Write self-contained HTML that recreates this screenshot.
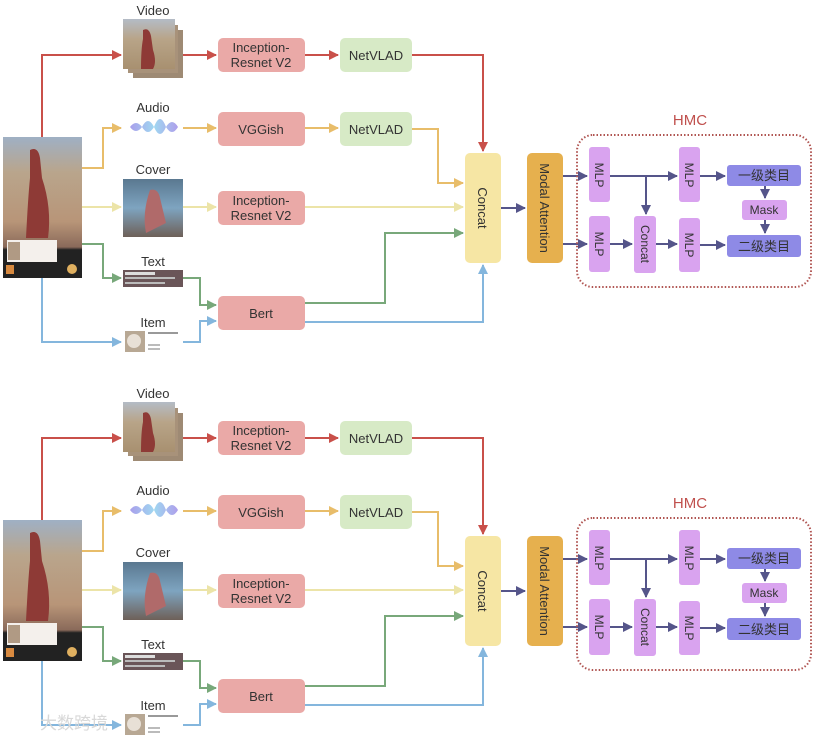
<!DOCTYPE html>
<html><head><meta charset="utf-8"><style>
html,body{margin:0;padding:0;background:#fff;}
svg{display:block;}
text{font-family:"Liberation Sans","Noto Sans CJK SC",sans-serif;fill:#333;}
</style></head><body>
<svg width="815" height="740" viewBox="0 0 815 740" xmlns="http://www.w3.org/2000/svg">
<defs>
<marker id="ar" viewBox="0 0 10 10" refX="9" refY="5" markerWidth="5" markerHeight="5" orient="auto"><path d="M0,0 L10,5 L0,10 z" fill="context-stroke"/></marker>
<marker id="r" viewBox="0 0 10 10" refX="9" refY="5" markerWidth="5" markerHeight="5" orient="auto"><path d="M0,0 L10,5 L0,10 z" fill="#c9504a"/></marker>
<marker id="o" viewBox="0 0 10 10" refX="9" refY="5" markerWidth="5" markerHeight="5" orient="auto"><path d="M0,0 L10,5 L0,10 z" fill="#e8bd6a"/></marker>
<marker id="ly" viewBox="0 0 10 10" refX="9" refY="5" markerWidth="5" markerHeight="5" orient="auto"><path d="M0,0 L10,5 L0,10 z" fill="#ece4a8"/></marker>
<marker id="g" viewBox="0 0 10 10" refX="9" refY="5" markerWidth="5" markerHeight="5" orient="auto"><path d="M0,0 L10,5 L0,10 z" fill="#78a87a"/></marker>
<marker id="b" viewBox="0 0 10 10" refX="9" refY="5" markerWidth="5" markerHeight="5" orient="auto"><path d="M0,0 L10,5 L0,10 z" fill="#84b6dd"/></marker>
<marker id="p" viewBox="0 0 10 10" refX="9" refY="5" markerWidth="5" markerHeight="5" orient="auto"><path d="M0,0 L10,5 L0,10 z" fill="#55558a"/></marker>
<linearGradient id="phone" x1="0" y1="0" x2="0" y2="1"><stop offset="0" stop-color="#9fb0c4"/><stop offset="0.25" stop-color="#b9a58c"/><stop offset="0.6" stop-color="#b89578"/><stop offset="0.78" stop-color="#8a6a5a"/><stop offset="0.8" stop-color="#222"/><stop offset="1" stop-color="#222"/></linearGradient>
<linearGradient id="vid" x1="0" y1="0" x2="0" y2="1"><stop offset="0" stop-color="#b4bcc6"/><stop offset="0.4" stop-color="#b8a488"/><stop offset="1" stop-color="#a89070"/></linearGradient>
<linearGradient id="cov" x1="0" y1="0" x2="0" y2="1"><stop offset="0" stop-color="#5a7890"/><stop offset="0.5" stop-color="#7ea4c0"/><stop offset="1" stop-color="#6e6058"/></linearGradient>
<linearGradient id="wave" x1="0" y1="0" x2="1" y2="0"><stop offset="0" stop-color="#9a8ee8"/><stop offset="0.5" stop-color="#8fd0ee"/><stop offset="1" stop-color="#a08ee8"/></linearGradient>
</defs>

<!-- TOP DIAGRAM -->
<g>
<!-- connectors -->
<g fill="none" stroke-width="2">
<polyline points="42,137 42,55 121,55" stroke="#c9504a" marker-end="url(#r)"/>
<polyline points="183,55 216,55" stroke="#c9504a" marker-end="url(#r)"/>
<polyline points="305,55 338,55" stroke="#c9504a" marker-end="url(#r)"/>
<polyline points="412,55 483,55 483,151" stroke="#c9504a" marker-end="url(#r)"/>
<polyline points="82,168 103,168 103,128 121,128" stroke="#e8bd6a" marker-end="url(#o)"/>
<polyline points="183,128 216,128" stroke="#e8bd6a" marker-end="url(#o)"/>
<polyline points="305,128 338,128" stroke="#e8bd6a" marker-end="url(#o)"/>
<polyline points="412,129 438,129 438,183 463,183" stroke="#e8bd6a" marker-end="url(#o)"/>
<polyline points="82,207 121,207" stroke="#ece4a8" marker-end="url(#ly)"/>
<polyline points="183,207 216,207" stroke="#ece4a8" marker-end="url(#ly)"/>
<polyline points="305,207 463,207" stroke="#ece4a8" marker-end="url(#ly)"/>
<polyline points="82,244 103,244 103,278 121,278" stroke="#78a87a" marker-end="url(#g)"/>
<polyline points="183,278 200,278 200,305 216,305" stroke="#78a87a" marker-end="url(#g)"/>
<polyline points="305,303 385,303 385,233 463,233" stroke="#78a87a" marker-end="url(#g)"/>
<polyline points="42,278 42,342 121,342" stroke="#84b6dd" marker-end="url(#b)"/>
<polyline points="183,342 200,342 200,321 216,321" stroke="#84b6dd" marker-end="url(#b)"/>
<polyline points="305,322 483,322 483,265" stroke="#84b6dd" marker-end="url(#b)"/>
<g stroke="#55558a">
<polyline points="501,208 525,208" marker-end="url(#p)"/>
<polyline points="563,176 587,176" marker-end="url(#p)"/>
<polyline points="563,244 587,244" marker-end="url(#p)"/>
<polyline points="610,176 677,176" marker-end="url(#p)"/>
<polyline points="646,176 646,214" marker-end="url(#p)"/>
<polyline points="610,244 632,244" marker-end="url(#p)"/>
<polyline points="656,244 677,244" marker-end="url(#p)"/>
<polyline points="700,176 725,176" marker-end="url(#p)"/>
<polyline points="700,245 725,245" marker-end="url(#p)"/>
<polyline points="765,186 765,198" marker-end="url(#p)"/>
<polyline points="765,220 765,233" marker-end="url(#p)"/>
</g>
</g>
<!-- images -->
<rect x="3" y="137" width="79" height="141" fill="url(#phone)"/>
<path d="M30,150 q8,-4 10,8 l2,20 q10,30 6,60 l-22,0 q2,-40 4,-60 z" fill="#8e3a36"/>
<rect x="7" y="240" width="50" height="22" fill="#f4f0ec"/>
<rect x="8" y="242" width="12" height="18" fill="#b09a84"/>
<rect x="6" y="265" width="8" height="9" fill="#d88a40"/>
<circle cx="72" cy="269" r="5" fill="#e0b060"/>
<rect x="133" y="30" width="50" height="48" fill="#9e8a74"/>
<rect x="128" y="25" width="50" height="48" fill="#a8927a"/>
<rect x="123" y="19" width="52" height="50" fill="url(#vid)"/>
<path d="M143,30 q6,-3 8,6 l2,14 q4,12 0,19 l-12,0 q0,-20 2,-30 z" fill="#8e3a36"/>
<path d="M130,127 q6,-8 12,0 q6,-12 12,0 q6,-16 12,0 q6,-10 12,0 q-6,10 -12,0 q-6,14 -12,0 q-6,10 -12,0 q-6,8 -12,0z" fill="url(#wave)" opacity="0.85"/>
<rect x="123" y="179" width="60" height="58" fill="url(#cov)"/>
<path d="M150,190 q8,-2 10,8 l6,25 l-20,10 q-4,-20 4,-43z" fill="#b06a6a"/>
<rect x="123" y="270" width="60" height="17" fill="#6a5558"/>
<rect x="125" y="272" width="30" height="3" fill="#ddd"/><rect x="125" y="277" width="50" height="2" fill="#bbb"/><rect x="125" y="282" width="40" height="2" fill="#bbb"/>
<rect x="125" y="331" width="20" height="21" fill="#b8a894"/>
<circle cx="134" cy="341" r="7" fill="#e8e0d6"/>
<rect x="148" y="332" width="30" height="2" fill="#999"/><rect x="148" y="344" width="12" height="2" fill="#bbb"/><rect x="148" y="348" width="12" height="2" fill="#bbb"/>
<!-- labels -->
<g font-size="13" text-anchor="middle">
<text x="153" y="15">Video</text><text x="153" y="112">Audio</text><text x="153" y="174">Cover</text>
<text x="153" y="266">Text</text><text x="153" y="327">Item</text>
</g>
<!-- boxes -->
<g font-size="13" text-anchor="middle">
<rect x="218" y="38" width="87" height="34" rx="5" fill="#eaa9a7"/><text x="261" y="52">Inception-</text><text x="261" y="67">Resnet V2</text>
<rect x="340" y="38" width="72" height="34" rx="5" fill="#d7eac6"/><text x="376" y="60">NetVLAD</text>
<rect x="218" y="112" width="87" height="34" rx="5" fill="#eaa9a7"/><text x="261" y="134">VGGish</text>
<rect x="340" y="112" width="72" height="34" rx="5" fill="#d7eac6"/><text x="376" y="134">NetVLAD</text>
<rect x="218" y="191" width="87" height="34" rx="5" fill="#eaa9a7"/><text x="261" y="205">Inception-</text><text x="261" y="220">Resnet V2</text>
<rect x="218" y="296" width="87" height="34" rx="5" fill="#eaa9a7"/><text x="261" y="318">Bert</text>
<rect x="465" y="153" width="36" height="110" rx="5" fill="#f6e6a4"/><text transform="translate(478,208) rotate(90)">Concat</text>
<rect x="527" y="153" width="36" height="110" rx="5" fill="#e6b04e"/><text transform="translate(540,208) rotate(90)">Modal Attention</text>
</g>
<text x="690" y="125" font-size="15" text-anchor="middle" style="fill:#c0504d">HMC</text>
<rect x="577" y="135" width="234" height="152" rx="16" fill="none" stroke="#b05552" stroke-width="2" stroke-dasharray="1.5,2"/>
<g font-size="12" text-anchor="middle">
<rect x="589" y="147" width="21" height="55" rx="3" fill="#d9a3ef"/><text transform="translate(595,175) rotate(90)">MLP</text>
<rect x="679" y="147" width="21" height="55" rx="3" fill="#d9a3ef"/><text transform="translate(685,175) rotate(90)">MLP</text>
<rect x="589" y="216" width="21" height="56" rx="3" fill="#d9a3ef"/><text transform="translate(595,244) rotate(90)">MLP</text>
<rect x="634" y="216" width="22" height="57" rx="3" fill="#d9a3ef"/><text transform="translate(641,244) rotate(90)">Concat</text>
<rect x="679" y="218" width="21" height="54" rx="3" fill="#d9a3ef"/><text transform="translate(685,245) rotate(90)">MLP</text>
<rect x="727" y="165" width="74" height="21" rx="3" fill="#8e8ae6"/><text x="764" y="180" font-size="13">一级类目</text>
<rect x="742" y="200" width="45" height="20" rx="3" fill="#d9a3ef"/><text x="764" y="214">Mask</text>
<rect x="727" y="235" width="74" height="22" rx="3" fill="#8e8ae6"/><text x="764" y="251" font-size="13">二级类目</text>
</g>
</g>

<!-- BOTTOM DIAGRAM -->
<g transform="translate(0,383)">
<g fill="none" stroke-width="2">
<polyline points="42,137 42,55 121,55" stroke="#c9504a" marker-end="url(#r)"/>
<polyline points="183,55 216,55" stroke="#c9504a" marker-end="url(#r)"/>
<polyline points="305,55 338,55" stroke="#c9504a" marker-end="url(#r)"/>
<polyline points="412,55 483,55 483,151" stroke="#c9504a" marker-end="url(#r)"/>
<polyline points="82,168 103,168 103,128 121,128" stroke="#e8bd6a" marker-end="url(#o)"/>
<polyline points="183,128 216,128" stroke="#e8bd6a" marker-end="url(#o)"/>
<polyline points="305,128 338,128" stroke="#e8bd6a" marker-end="url(#o)"/>
<polyline points="412,129 438,129 438,183 463,183" stroke="#e8bd6a" marker-end="url(#o)"/>
<polyline points="82,207 121,207" stroke="#ece4a8" marker-end="url(#ly)"/>
<polyline points="183,207 216,207" stroke="#ece4a8" marker-end="url(#ly)"/>
<polyline points="305,207 463,207" stroke="#ece4a8" marker-end="url(#ly)"/>
<polyline points="82,244 103,244 103,278 121,278" stroke="#78a87a" marker-end="url(#g)"/>
<polyline points="183,278 200,278 200,305 216,305" stroke="#78a87a" marker-end="url(#g)"/>
<polyline points="305,303 385,303 385,233 463,233" stroke="#78a87a" marker-end="url(#g)"/>
<polyline points="42,278 42,342 121,342" stroke="#84b6dd" marker-end="url(#b)"/>
<polyline points="183,342 200,342 200,321 216,321" stroke="#84b6dd" marker-end="url(#b)"/>
<polyline points="305,322 483,322 483,265" stroke="#84b6dd" marker-end="url(#b)"/>
<g stroke="#55558a">
<polyline points="501,208 525,208" marker-end="url(#p)"/>
<polyline points="563,176 587,176" marker-end="url(#p)"/>
<polyline points="563,244 587,244" marker-end="url(#p)"/>
<polyline points="610,176 677,176" marker-end="url(#p)"/>
<polyline points="646,176 646,214" marker-end="url(#p)"/>
<polyline points="610,244 632,244" marker-end="url(#p)"/>
<polyline points="656,244 677,244" marker-end="url(#p)"/>
<polyline points="700,176 725,176" marker-end="url(#p)"/>
<polyline points="700,245 725,245" marker-end="url(#p)"/>
<polyline points="765,186 765,198" marker-end="url(#p)"/>
<polyline points="765,220 765,233" marker-end="url(#p)"/>
</g>
</g>
<rect x="3" y="137" width="79" height="141" fill="url(#phone)"/>
<path d="M30,150 q8,-4 10,8 l2,20 q10,30 6,60 l-22,0 q2,-40 4,-60 z" fill="#8e3a36"/>
<rect x="7" y="240" width="50" height="22" fill="#f4f0ec"/>
<rect x="8" y="242" width="12" height="18" fill="#b09a84"/>
<rect x="6" y="265" width="8" height="9" fill="#d88a40"/>
<circle cx="72" cy="269" r="5" fill="#e0b060"/>
<rect x="133" y="30" width="50" height="48" fill="#9e8a74"/>
<rect x="128" y="25" width="50" height="48" fill="#a8927a"/>
<rect x="123" y="19" width="52" height="50" fill="url(#vid)"/>
<path d="M143,30 q6,-3 8,6 l2,14 q4,12 0,19 l-12,0 q0,-20 2,-30 z" fill="#8e3a36"/>
<path d="M130,127 q6,-8 12,0 q6,-12 12,0 q6,-16 12,0 q6,-10 12,0 q-6,10 -12,0 q-6,14 -12,0 q-6,10 -12,0 q-6,8 -12,0z" fill="url(#wave)" opacity="0.85"/>
<rect x="123" y="179" width="60" height="58" fill="url(#cov)"/>
<path d="M150,190 q8,-2 10,8 l6,25 l-20,10 q-4,-20 4,-43z" fill="#b06a6a"/>
<rect x="123" y="270" width="60" height="17" fill="#6a5558"/>
<rect x="125" y="272" width="30" height="3" fill="#ddd"/><rect x="125" y="277" width="50" height="2" fill="#bbb"/><rect x="125" y="282" width="40" height="2" fill="#bbb"/>
<rect x="125" y="331" width="20" height="21" fill="#b8a894"/>
<circle cx="134" cy="341" r="7" fill="#e8e0d6"/>
<rect x="148" y="332" width="30" height="2" fill="#999"/><rect x="148" y="344" width="12" height="2" fill="#bbb"/><rect x="148" y="348" width="12" height="2" fill="#bbb"/>
<g font-size="13" text-anchor="middle">
<text x="153" y="15">Video</text><text x="153" y="112">Audio</text><text x="153" y="174">Cover</text>
<text x="153" y="266">Text</text><text x="153" y="327">Item</text>
</g>
<g font-size="13" text-anchor="middle">
<rect x="218" y="38" width="87" height="34" rx="5" fill="#eaa9a7"/><text x="261" y="52">Inception-</text><text x="261" y="67">Resnet V2</text>
<rect x="340" y="38" width="72" height="34" rx="5" fill="#d7eac6"/><text x="376" y="60">NetVLAD</text>
<rect x="218" y="112" width="87" height="34" rx="5" fill="#eaa9a7"/><text x="261" y="134">VGGish</text>
<rect x="340" y="112" width="72" height="34" rx="5" fill="#d7eac6"/><text x="376" y="134">NetVLAD</text>
<rect x="218" y="191" width="87" height="34" rx="5" fill="#eaa9a7"/><text x="261" y="205">Inception-</text><text x="261" y="220">Resnet V2</text>
<rect x="218" y="296" width="87" height="34" rx="5" fill="#eaa9a7"/><text x="261" y="318">Bert</text>
<rect x="465" y="153" width="36" height="110" rx="5" fill="#f6e6a4"/><text transform="translate(478,208) rotate(90)">Concat</text>
<rect x="527" y="153" width="36" height="110" rx="5" fill="#e6b04e"/><text transform="translate(540,208) rotate(90)">Modal Attention</text>
</g>
<text x="690" y="125" font-size="15" text-anchor="middle" style="fill:#c0504d">HMC</text>
<rect x="577" y="135" width="234" height="152" rx="16" fill="none" stroke="#b05552" stroke-width="2" stroke-dasharray="1.5,2"/>
<g font-size="12" text-anchor="middle">
<rect x="589" y="147" width="21" height="55" rx="3" fill="#d9a3ef"/><text transform="translate(595,175) rotate(90)">MLP</text>
<rect x="679" y="147" width="21" height="55" rx="3" fill="#d9a3ef"/><text transform="translate(685,175) rotate(90)">MLP</text>
<rect x="589" y="216" width="21" height="56" rx="3" fill="#d9a3ef"/><text transform="translate(595,244) rotate(90)">MLP</text>
<rect x="634" y="216" width="22" height="57" rx="3" fill="#d9a3ef"/><text transform="translate(641,244) rotate(90)">Concat</text>
<rect x="679" y="218" width="21" height="54" rx="3" fill="#d9a3ef"/><text transform="translate(685,245) rotate(90)">MLP</text>
<rect x="727" y="165" width="74" height="21" rx="3" fill="#8e8ae6"/><text x="764" y="180" font-size="13">一级类目</text>
<rect x="742" y="200" width="45" height="20" rx="3" fill="#d9a3ef"/><text x="764" y="214">Mask</text>
<rect x="727" y="235" width="74" height="22" rx="3" fill="#8e8ae6"/><text x="764" y="251" font-size="13">二级类目</text>
</g>
</g>
<text x="40" y="729" font-size="17" style="fill:#d8d8d8">大数跨境</text>
</svg>
</body></html>
